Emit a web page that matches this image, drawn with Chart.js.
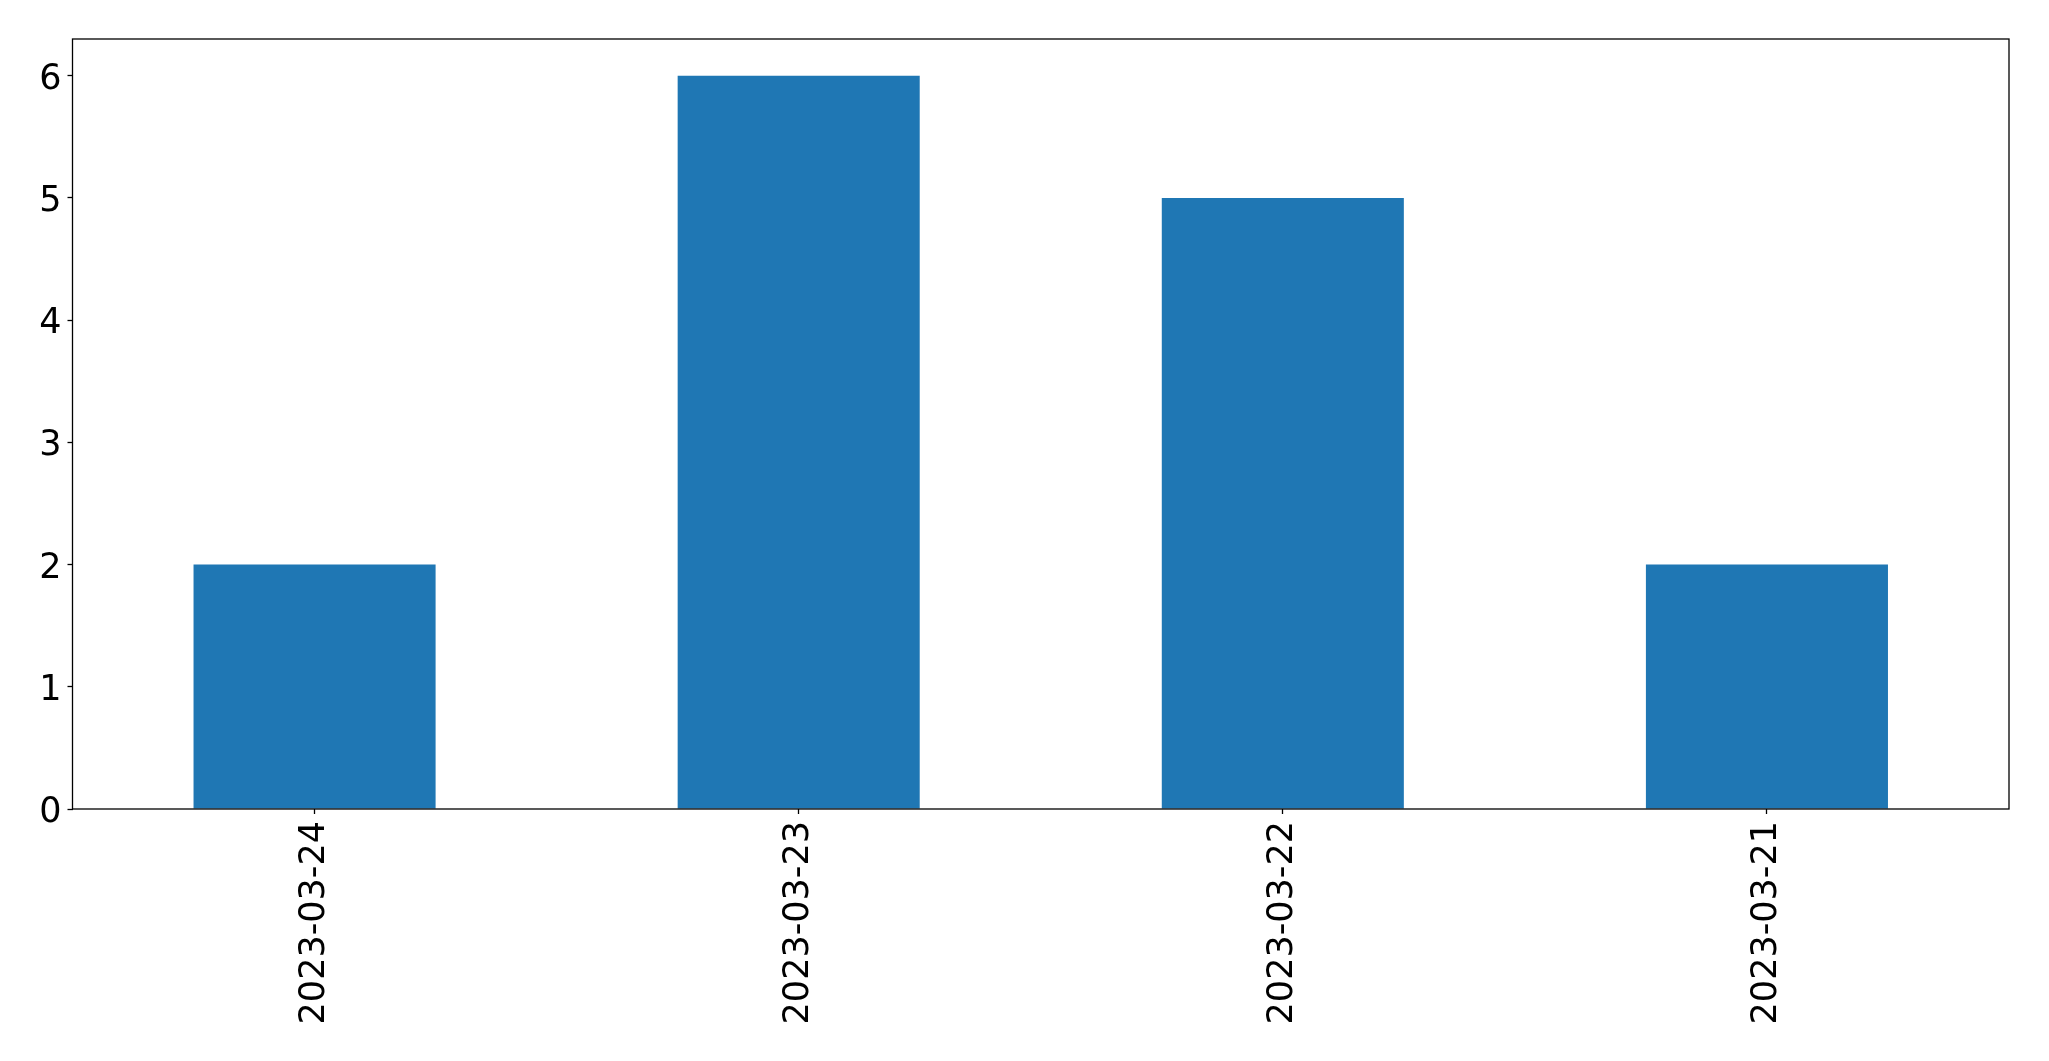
<!DOCTYPE html>
<html>
<head>
<meta charset="utf-8">
<script src="https://cdn.jsdelivr.net/npm/chart.js@4.4.0/dist/chart.umd.min.js"></script>
<style>
  html, body { margin: 0; padding: 0; background: #fff; }
</style>
</head>
<body>
<canvas id="chart" width="2049" height="1061"></canvas>
<script>
const dates = ["2023-03-24", "2023-03-23", "2023-03-22", "2023-03-21"];
const counts = [2, 6, 5, 2];
const yTicks = [0, 1, 2, 3, 4, 5, 6];

// draw the full axes frame like matplotlib, and nudge y labels down a bit
const frame = {
  id: "frame",
  beforeDraw(chart) {
    const y = chart.scales.y;
    if (y && !y._nudged) {
      const orig = y.drawLabels.bind(y);
      y.drawLabels = function (area) {
        const c = this.ctx;
        c.save();
        c.translate(0, 4);
        orig(area);
        c.restore();
      };
      y._nudged = true;
    }
  },
  afterDraw(chart) {
    const { ctx, chartArea: a } = chart;
    ctx.save();
    ctx.strokeStyle = "#000";
    ctx.lineWidth = 1.3;
    ctx.strokeRect(a.left, a.top, a.right - a.left, a.bottom - a.top);
    ctx.restore();
  },
};

const ctx = document.getElementById("chart").getContext("2d");
new Chart(ctx, {
  type: "bar",
  data: {
    labels: dates,
    datasets: [
      {
        data: counts,
        backgroundColor: "#1f77b4",
        borderWidth: 0,
        barPercentage: 0.5,
        categoryPercentage: 1.0,
      },
    ],
  },
  options: {
    responsive: false,
    animation: false,
    layout: { padding: { top: 39, right: 40, left: 0, bottom: 0 } },
    plugins: { legend: { display: false }, tooltip: { enabled: false } },
    scales: {
      x: {
        offset: true,
        grid: {
          drawOnChartArea: false,
          drawTicks: true,
          tickLength: 5,
          tickColor: "#000",
          tickWidth: 1.3,
          offset: false,
        },
        border: { display: false },
        ticks: {
          color: "#000",
          font: { family: "DejaVu Sans", size: 35 },
          maxRotation: 90,
          minRotation: 90,
          padding: 7,
        },
        afterFit(scale) {
          scale.height = 252;
        },
      },
      y: {
        min: 0,
        max: 6.3,
        afterBuildTicks(scale) {
          scale.ticks = yTicks.map((v) => ({ value: v }));
        },
        grid: {
          drawOnChartArea: false,
          drawTicks: true,
          tickLength: 5,
          tickColor: "#000",
          tickWidth: 1.3,
        },
        border: { display: false },
        ticks: {
          color: "#000",
          font: { family: "DejaVu Sans", size: 35 },
          padding: 6,
        },
        afterFit(scale) {
          scale.width = 72.5;
        },
      },
    },
  },
  plugins: [frame],
});
</script>
</body>
</html>
